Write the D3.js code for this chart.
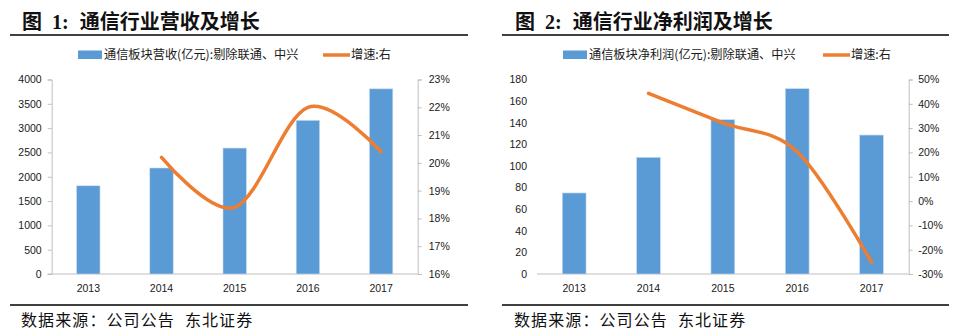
<!DOCTYPE html>
<html>
<head>
<meta charset="utf-8">
<script src="https://cdn.jsdelivr.net/npm/d3@7/dist/d3.min.js"></script>
<style>
  body { margin: 0; background: #fff; }
  svg { display: block; }
  .tick text { font-family: "Liberation Sans", Arial, sans-serif; font-size: 10.5px; fill: #1a1a1a; }
</style>
</head>
<body>
<div id="chart"></div>
<script>
// years on the x axis
const years = ['2013', '2014', '2015', '2016', '2017'];

// fig 1: revenue (100m yuan) and yoy growth
const revenue = [1814, 2180, 2590, 3160, 3808];
const revenueGrowth = [null, 0.202, 0.184, 0.220, 0.204];
const revenueTicks = [0, 500, 1000, 1500, 2000, 2500, 3000, 3500, 4000];
const revenueGrowthTicks = [0.16, 0.17, 0.18, 0.19, 0.20, 0.21, 0.22, 0.23];

// fig 2: net profit (100m yuan) and yoy growth
const netProfit = [75, 108, 142.8, 171.5, 128.6];
const profitGrowth = [null, 0.443, 0.322, 0.203, -0.252];
const profitTicks = [0, 20, 40, 60, 80, 100, 120, 140, 160, 180];
const profitGrowthTicks = [-0.3, -0.2, -0.1, 0, 0.1, 0.2, 0.3, 0.4, 0.5];

const BAR = '#5b9bd5';
const LINE = '#ed7d31';
const AXIS = '#bfbfbf';
const CJK = '"Noto Sans CJK SC", sans-serif';

// plain hyphen for negatives, like the spreadsheet does
const pct = d => d3.format('.0%')(d).replace('−', '-');

const svg = d3.select('#chart')
  .append('svg')
  .attr('width', 959)
  .attr('height', 335);

function drawPanel(opt) {
  const g = svg.append('g');
  const top = 79.5, bottom = 274;

  // heading + rules
  const title = g.append('text')
    .attr('x', opt.titleX)
    .attr('y', 29)
    .attr('font-family', CJK)
    .attr('font-weight', 700)
    .attr('font-size', 20)
    .attr('fill', '#111');
  title.append('tspan').text('图');
  title.append('tspan')
    .attr('dx', 10)
    .attr('font-family', '"Liberation Serif", serif')
    .text(opt.num + ':');
  title.append('tspan').attr('dx', 11).text(opt.title);

  g.append('line')
    .attr('x1', opt.ruleX[0]).attr('x2', opt.ruleX[1])
    .attr('y1', 35).attr('y2', 35)
    .attr('stroke', '#000').attr('stroke-width', 1.6);
  g.append('line')
    .attr('x1', opt.ruleX[0]).attr('x2', opt.ruleX[1])
    .attr('y1', 305).attr('y2', 305)
    .attr('stroke', '#000').attr('stroke-width', 1.6);

  const src = g.append('text')
    .attr('x', opt.titleX - 1)
    .attr('y', 326)
    .attr('font-family', CJK)
    .attr('font-size', 16)
    .attr('letter-spacing', 1.1)
    .attr('fill', '#111');
  src.append('tspan').text('数据来源：公司公告');
  src.append('tspan').attr('dx', 10).text('东北证券');

  // legend
  const lg = g.append('g').attr('font-family', CJK).attr('font-size', 12.2).attr('fill', '#1a1a1a');
  lg.append('rect')
    .attr('x', opt.legendX).attr('y', 50.5)
    .attr('width', 24).attr('height', 8.5)
    .attr('fill', BAR);
  lg.append('text')
    .attr('x', opt.legendX + 26).attr('y', 59)
    .text(opt.barName);
  lg.append('line')
    .attr('x1', opt.legend2X).attr('x2', opt.legend2X + 27)
    .attr('y1', 55).attr('y2', 55)
    .attr('stroke', LINE).attr('stroke-width', 3.5);
  lg.append('text')
    .attr('x', opt.legend2X + 28).attr('y', 59)
    .text('增速:右');

  // scales
  const x = d3.scaleBand()
    .domain(years)
    .range(opt.plotX)
    .paddingInner(0.68)
    .paddingOuter(0.34);
  const y = d3.scaleLinear()
    .domain(d3.extent(opt.barTicks))
    .range([bottom, top]);
  const y2 = d3.scaleLinear()
    .domain(d3.extent(opt.lineTicks))
    .range([bottom, top]);

  // axes
  const leftAxis = d3.axisLeft(y)
    .tickValues(opt.barTicks)
    .tickFormat(d3.format('d'))
    .tickSize(opt.leftTick)
    .tickPadding(opt.leftTick ? 6 : 10);
  const la = g.append('g')
    .attr('transform', `translate(${opt.plotX[0]},0)`)
    .call(leftAxis);
  la.selectAll('line').attr('stroke', AXIS);
  la.select('.domain').attr('stroke', AXIS).attr('stroke-width', opt.leftTick ? 1 : 0);

  const rightAxis = d3.axisRight(y2)
    .tickValues(opt.lineTicks)
    .tickFormat(pct)
    .tickSize(4)
    .tickPadding(opt.rightPad);
  const ra = g.append('g')
    .attr('transform', `translate(${opt.plotX[1]},0)`)
    .call(rightAxis);
  ra.selectAll('line').attr('stroke', AXIS);
  ra.select('.domain').attr('stroke', AXIS);

  const xa = g.append('g')
    .attr('transform', `translate(0,${bottom})`)
    .call(d3.axisBottom(x).tickSize(0).tickPadding(11));
  xa.select('.domain').remove();
  g.append('line')
    .attr('x1', opt.plotX[0] - (opt.leftTick ? 4 : 0)).attr('x2', opt.plotX[1])
    .attr('y1', bottom).attr('y2', bottom)
    .attr('stroke', AXIS);

  // bars
  g.append('g')
    .selectAll('rect')
    .data(opt.bars)
    .join('rect')
    .attr('x', (d, i) => x(years[i]))
    .attr('y', d => y(d))
    .attr('width', x.bandwidth())
    .attr('height', d => bottom - y(d))
    .attr('fill', BAR)
    .attr('stroke', '#c9dcf0')
    .attr('stroke-width', 0.6);

  // smoothed growth line
  const line = d3.line()
    .defined(d => d != null)
    .x((d, i) => x(years[i]) + x.bandwidth() / 2)
    .y(d => y2(d))
    .curve(d3.curveCardinal.tension(0));
  g.append('path')
    .attr('d', line(opt.growth))
    .attr('fill', 'none')
    .attr('stroke', LINE)
    .attr('stroke-width', 3.5)
    .attr('stroke-linecap', 'round');
}

drawPanel({
  num: 1,
  title: '通信行业营收及增长',
  titleX: 22,
  ruleX: [10, 468],
  legendX: 78,
  legend2X: 323,
  barName: '通信板块营收(亿元):剔除联通、中兴',
  plotX: [51.7, 417.7],
  leftTick: 4,
  rightPad: 7,
  bars: revenue,
  growth: revenueGrowth,
  barTicks: revenueTicks,
  lineTicks: revenueGrowthTicks
});

drawPanel({
  num: 2,
  title: '通信行业净利润及增长',
  titleX: 515,
  ruleX: [502, 949],
  legendX: 563,
  legend2X: 823,
  barName: '通信板块净利润(亿元):剔除联通、中兴',
  plotX: [537, 908.7],
  leftTick: 0,
  rightPad: 5.5,
  bars: netProfit,
  growth: profitGrowth,
  barTicks: profitTicks,
  lineTicks: profitGrowthTicks
});
</script>
</body>
</html>
